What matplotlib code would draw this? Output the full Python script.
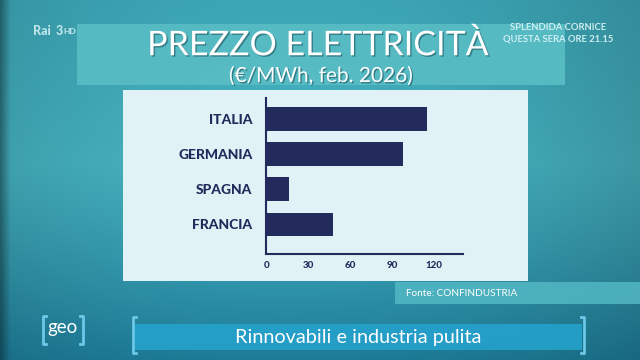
import numpy as np
import matplotlib
matplotlib.use("Agg")
import matplotlib.pyplot as plt
from matplotlib.patches import Rectangle
import matplotlib.patheffects as pe

# ---- data ----
countries = ["ITALIA", "GERMANIA", "SPAGNA", "FRANCIA"]
prices = [115, 98, 16.5, 47.5]
xticks = [0, 30, 60, 90, 120]
title = "PREZZO ELETTRICITÀ"
subtitle = "(€/MWh, feb. 2026)"
source = "Fonte: CONFINDUSTRIA"
banner = "Rinnovabili e industria pulita"

W, H = 640, 360
fig = plt.figure(figsize=(6.4, 3.6), dpi=100)

# ---- background (underwater teal) ----
bg = fig.add_axes([0, 0, 1, 1], zorder=0)
bg.set_axis_off()
yy, xx = np.mgrid[0:1:180j, 0:1:320j]
top = np.array([0x3c, 0xa6, 0xb6]) / 255
mid = np.array([0x46, 0xb2, 0xc0]) / 255
bot = np.array([0x1d, 0x7c, 0x98]) / 255
t = yy[..., None]
img = np.where(t < 0.45, top + (mid - top) * (t / 0.45),
               mid + (bot - mid) * ((t - 0.45) / 0.55) ** 1.2)
vign = 1 - 0.18 * (np.abs(xx - 0.45) * 1.7) ** 2
vign = np.clip(vign, 0.7, 1)[..., None]
edge = 1 - 0.35 * np.clip(1 - xx / 0.015, 0, 1)[..., None]
img = np.clip(img * vign * edge, 0, 1)
bg.imshow(img, extent=[0, W, H, 0], aspect="auto", interpolation="bilinear")
bg.set_xlim(0, W)
bg.set_ylim(H, 0)

def rect(x0, y0, x1, y1, color, alpha=1.0, z=1):
    bg.add_patch(Rectangle((x0, y0), x1 - x0, y1 - y0, facecolor=color,
                           edgecolor="none", alpha=alpha, zorder=z))

# title band
rect(77, 24, 565, 85, "#58bcc4", 0.95)
# white panel
rect(123, 90, 528, 281, "#e0f2f5", 1.0)
# fonte band
rect(395, 282, 640, 304, "#52b8c3", 0.85)
# bottom banner
rect(135, 324, 582, 350, "#25a2cc", 0.9)

shadow = [pe.SimplePatchShadow(offset=(1, -1), shadow_rgbFace="#1d5560", alpha=0.6),
          pe.Normal()]
bg.text(318, 45, title, ha="center", va="center", color="white",
        fontsize=24.5, family="Lato", path_effects=shadow, zorder=3)
bg.text(321, 76, subtitle, ha="center", va="center", color="white",
        fontsize=15, family="Lato", path_effects=shadow, zorder=3)
bg.text(462, 294, source, ha="center", va="center", color="white",
        fontsize=7.2, family="Lato", zorder=3)
bg.text(358, 337, banner, ha="center", va="center", color="white",
        fontsize=14.3, family="Lato", zorder=3)

# brackets
bcol = "#6cc8e8"
for xb, d in [(133, 1), (584, -1)]:
    bg.plot([xb + 3 * d, xb, xb, xb + 3 * d], [317, 317, 353, 353], color=bcol, lw=2, zorder=3)
for xb, d in [(43, 1), (83, -1)]:
    bg.plot([xb + 3 * d, xb, xb, xb + 3 * d], [316, 316, 344, 344], color=bcol, lw=2, zorder=3)
bg.text(63, 327, "geo", ha="center", va="center", color="white", fontsize=13.5,
        family="Lato", zorder=3)

# Rai 3 HD logo
bg.text(33, 31, "Rai", ha="left", va="center", color="#bfe6ea", fontsize=9,
        family="Lato", fontweight="black", zorder=3)
bg.text(56, 31, "3", ha="left", va="center", color="#bfe6ea", fontsize=9,
        family="Lato", fontweight="black", zorder=3)
bg.text(63.5, 32, "HD", ha="left", va="center", color="#bfe6ea", fontsize=6,
        family="Lato", fontweight="black", zorder=3)
# promo
bg.text(558, 27, "SPLENDIDA CORNICE", ha="center", va="center", color="#cfeef2",
        fontsize=6.8, family="Lato", fontweight="bold", zorder=3)
bg.text(558, 39, "QUESTA SERA ORE 21.15", ha="center", va="center", color="#cfeef2",
        fontsize=6.8, family="Lato", fontweight="bold", zorder=3)

# ---- bar chart ----
navy = "#232a5c"
ax = fig.add_axes([266.3 / W, 1 - 254 / H, (463 - 266.3) / W, (254 - 98) / H], zorder=2)
ax.patch.set_alpha(0)
ypos = np.arange(len(countries))
ax.barh(ypos, prices, height=0.67, color=navy)
ax.set_xlim(0, 141)
ax.set_ylim(3.84, -0.59)
ax.set_yticks(ypos)
ax.set_yticklabels(countries)
ax.set_xticks(xticks)
ax.set_xticklabels([str(v) for v in xticks])
for s in ["top", "right"]:
    ax.spines[s].set_visible(False)
for s in ["left", "bottom"]:
    ax.spines[s].set_color(navy)
    ax.spines[s].set_linewidth(1.5)
ax.tick_params(axis="both", length=0, colors=navy)
ax.tick_params(axis="y", pad=10)
ax.tick_params(axis="x", pad=5)
for lab in ax.get_yticklabels():
    lab.set_fontsize(10)
    lab.set_fontweight("black")
    lab.set_family("Lato")
for lab in ax.get_xticklabels():
    lab.set_fontsize(7)
    lab.set_fontweight("black")
    lab.set_family("Lato")

fig.savefig("out.png", dpi=100)
